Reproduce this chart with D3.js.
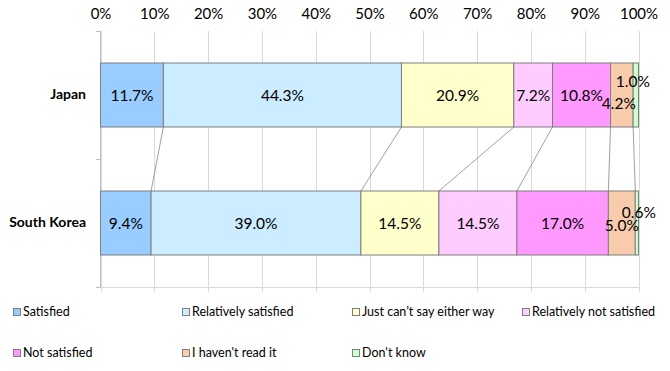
<!DOCTYPE html>
<html>
<head>
<meta charset="utf-8">
<script src="https://cdn.jsdelivr.net/npm/d3@7"></script>
<style>
  html, body { margin: 0; padding: 0; background: #fff; }
  svg { display: block; font-family: Lato, "Open Sans", sans-serif; }
</style>
</head>
<body>
<svg id="chart" width="670" height="371"></svg>
<script>
// ---- data ----
const categories = ["Japan", "South Korea"];
const seriesNames = ["Satisfied", "Relatively satisfied", "Just can\u2019t say either way",
  "Relatively not satisfied", "Not satisfied", "I haven't read it", "Don't know"];
const japanValues = [11.7, 44.3, 20.9, 7.2, 10.8, 4.2, 1.0];
const koreaValues = [9.4, 39.0, 14.5, 14.5, 17.0, 5.0, 0.6];
const tickValues = [0, 0.1, 0.2, 0.3, 0.4, 0.5, 0.6, 0.7, 0.8, 0.9, 1.0];
const colors = ["#99CCFF", "#CCECFF", "#FFFFCC", "#FFCCFF", "#FF99FF", "#F8CBAD", "#CCFFCC"];

const values = [japanValues, koreaValues];
// label nudges (dx, dy) for crowded small segments: [row-series]
const nudge = {
  "0-5": [-3, 8], "0-6": [-3, -14],
  "1-5": [0, 2], "1-6": [2, -11]
};

const svg = d3.select("#chart");
const x = d3.scaleLinear().domain([0, 1]).range([100.5, 638.5]);
const y = d3.scaleBand().domain(categories).range([31, 287]).paddingInner(0.5).paddingOuter(0.25);

// build stacked (normalized) segments
const rows = categories.map((c, i) => {
  const vals = values[i];
  const total = d3.sum(vals);
  let acc = 0;
  return vals.map((v, j) => {
    const s = { cat: c, row: i, series: j, value: v, x0: acc / total, x1: (acc + v) / total };
    acc += v;
    return s;
  });
});

// gridlines
svg.append("g").selectAll("line").data(tickValues).join("line")
  .attr("x1", d => Math.round(x(d)) + 0.5).attr("x2", d => Math.round(x(d)) + 0.5)
  .attr("y1", 31).attr("y2", 292)
  .attr("stroke", "#d9d9d9").attr("stroke-width", 1);

// bottom horizontal line
svg.append("line").attr("x1", 96).attr("x2", x(1)).attr("y1", 287.5).attr("y2", 287.5)
  .attr("stroke", "#d9d9d9");

// left axis line and boundary ticks
const yr = y.range();
svg.append("line").attr("x1", 100.5).attr("x2", 100.5).attr("y1", yr[0]).attr("y2", yr[1])
  .attr("stroke", "#bfbfbf");
const boundaries = [yr[0], (yr[0] + yr[1]) / 2, yr[1]];
svg.append("g").selectAll("line").data(boundaries).join("line")
  .attr("x1", 96).attr("x2", 100.5).attr("y1", d => d + 0.5).attr("y2", d => d + 0.5)
  .attr("stroke", "#bfbfbf");

// top axis labels
const xAxis = d3.axisTop(x).tickValues(tickValues).tickFormat(d3.format(".0%")).tickSize(0).tickPadding(12.5);
const gx = svg.append("g").attr("transform", "translate(0,31)").call(xAxis);
gx.select(".domain").remove();
gx.selectAll("text").attr("font-size", 15).attr("fill", "#000").attr("font-family", "Lato, sans-serif");

// category labels
const yAxis = d3.axisLeft(y).tickSize(0).tickPadding(14);
const gy = svg.append("g").attr("transform", "translate(100,0)").call(yAxis);
gy.select(".domain").remove();
gy.selectAll("text").attr("font-size", 14).attr("font-weight", "bold").attr("fill", "#000")
  .attr("font-family", "Lato, sans-serif");

// series lines between bars
const lineData = d3.range(seriesNames.length - 1).map(j => ({
  xa: rows[0][j].x1, xb: rows[1][j].x1
}));
svg.append("g").selectAll("line").data(lineData).join("line")
  .attr("x1", d => x(d.xa)).attr("y1", y(categories[0]) + y.bandwidth())
  .attr("x2", d => x(d.xb)).attr("y2", y(categories[1]))
  .attr("stroke", "#808080").attr("stroke-width", 0.75);

// bars
const segs = rows.flat();
svg.append("g").selectAll("rect").data(segs).join("rect")
  .attr("x", d => x(d.x0)).attr("width", d => x(d.x1) - x(d.x0))
  .attr("y", d => y(d.cat)).attr("height", y.bandwidth())
  .attr("fill", d => colors[d.series])
  .attr("stroke", "#7f7f7f").attr("stroke-width", 1);

// data labels
svg.append("g").selectAll("text").data(segs).join("text")
  .attr("x", d => x((d.x0 + d.x1) / 2) + (nudge[d.row + "-" + d.series] || [0, 0])[0])
  .attr("y", d => y(d.cat) + y.bandwidth() / 2 + 1 + (nudge[d.row + "-" + d.series] || [0, 0])[1])
  .attr("dy", "0.35em").attr("text-anchor", "middle")
  .attr("font-size", 15.5).attr("fill", "#000")
  .text(d => d.value.toFixed(1) + "%");

// legend
const legendX = [13, 182, 352, 522];
const legendY = [312, 353];
const lg = svg.append("g").selectAll("g").data(seriesNames).join("g")
  .attr("transform", (d, i) => `translate(${legendX[i % 4]},${legendY[Math.floor(i / 4)]})`);
lg.append("rect").attr("x", 0.5).attr("y", -3.5).attr("width", 7).attr("height", 7)
  .attr("fill", (d, i) => colors[i]).attr("stroke", "#7f7f7f").attr("stroke-width", 1);
lg.append("text").attr("x", 10).attr("y", 0).attr("dy", "0.35em")
  .attr("font-size", 12.5).attr("fill", "#000").text(d => d);
</script>
</body>
</html>
